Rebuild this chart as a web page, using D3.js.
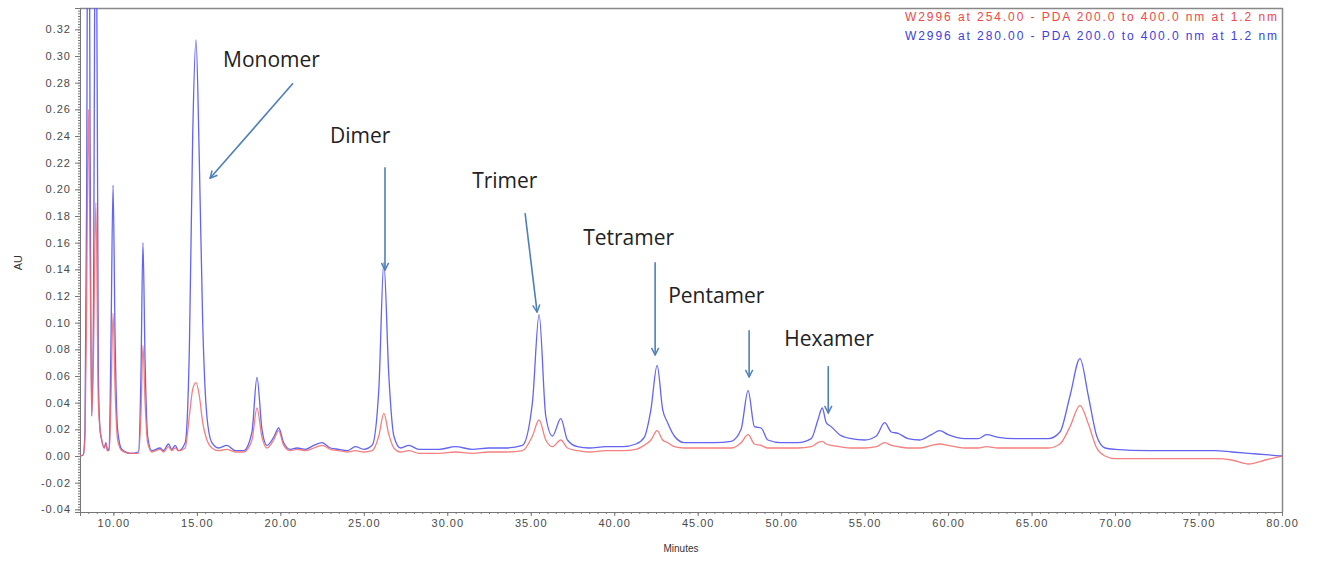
<!DOCTYPE html>
<html>
<head>
<meta charset="utf-8">
<script src="https://cdn.jsdelivr.net/npm/d3@7"></script>
<style>
  body { margin: 0; background: #fff; }
  svg { display: block; }
</style>
</head>
<body>
<div id="graph"></div>
<script>
//Retention times (minutes) shared by both traces
var times = [8.0, 8.2, 8.3, 8.4, 8.5, 8.6, 8.7, 8.8, 8.95, 9.1, 9.2, 9.3, 9.45, 9.55, 9.65, 9.75, 9.85, 9.98, 10.1, 10.25,
  10.5, 11.0, 11.5, 11.65, 11.77, 11.9, 12.05, 12.3, 12.8, 13.0, 13.3, 13.5, 13.7, 13.9, 14.3, 14.55, 14.75, 14.95, 15.15, 15.35,
  15.6, 15.9, 16.3, 16.8, 17.3, 17.8, 18.3, 18.6, 18.9, 19.2, 19.6, 19.9, 20.2, 20.6, 21.0, 21.5, 22.0, 22.5, 23.0, 23.5,
  24.0, 24.5, 25.0, 25.5, 25.9, 26.2, 26.5, 26.8, 27.2, 27.7, 28.3, 29.5, 30.5, 31.5, 32.5, 33.5, 34.5, 35.1, 35.5, 35.9,
  36.3, 36.8, 37.2, 37.8, 38.5, 39.5, 40.5, 41.3, 41.8, 42.2, 42.57, 42.9, 43.2, 43.6, 44.2, 45.0, 46.0, 47.0, 47.6, 48.02,
  48.4, 48.8, 49.2, 50.0, 51.0, 51.8, 52.2, 52.46, 52.7, 53.0, 53.5, 54.2, 55.0, 55.7, 56.2, 56.6, 57.0, 57.6, 58.3, 59.0,
  59.5, 60.0, 61.0, 61.8, 62.3, 63.0, 64.0, 65.0, 66.0, 66.7, 67.3, 67.9, 68.4, 68.9, 69.4, 70.0, 72.0, 74.0, 76.0, 77.0,
  78.0, 79.0, 80.0];

//Absorbance at 280 nm (blue trace)
var au280 = [0.000, 0.001, 0.020, 0.200, 0.600, 0.250, 0.030, 0.100, 0.500, 0.060, 0.020, 0.012, 0.006, 0.010, 0.004, 0.006, 0.080, 0.203, 0.090, 0.020,
  0.005, 0.002, 0.003, 0.060, 0.160, 0.070, 0.015, 0.004, 0.006, 0.004, 0.009, 0.005, 0.008, 0.004, 0.010, 0.080, 0.240, 0.312, 0.220, 0.100,
  0.030, 0.010, 0.006, 0.008, 0.004, 0.004, 0.018, 0.059, 0.020, 0.008, 0.014, 0.021, 0.010, 0.005, 0.006, 0.005, 0.008, 0.010, 0.006, 0.005,
  0.004, 0.007, 0.005, 0.008, 0.050, 0.145, 0.060, 0.015, 0.006, 0.008, 0.005, 0.005, 0.007, 0.005, 0.006, 0.006, 0.008, 0.040, 0.106, 0.030,
  0.015, 0.028, 0.012, 0.007, 0.006, 0.007, 0.007, 0.009, 0.014, 0.035, 0.068, 0.035, 0.025, 0.015, 0.010, 0.010, 0.010, 0.011, 0.020, 0.049,
  0.022, 0.021, 0.012, 0.010, 0.010, 0.013, 0.027, 0.036, 0.025, 0.022, 0.016, 0.013, 0.012, 0.015, 0.025, 0.018, 0.017, 0.013, 0.012, 0.016,
  0.019, 0.016, 0.013, 0.013, 0.016, 0.014, 0.013, 0.013, 0.013, 0.018, 0.045, 0.073, 0.045, 0.015, 0.006, 0.005, 0.004, 0.004, 0.004, 0.003,
  0.002, 0.001, 0.000];

//Absorbance at 254 nm (red trace)
var au254 = [0.000, 0.001, 0.015, 0.120, 0.260, 0.150, 0.030, 0.070, 0.190, 0.040, 0.020, 0.012, 0.006, 0.009, 0.004, 0.004, 0.040, 0.107, 0.050, 0.012,
  0.004, 0.002, 0.002, 0.030, 0.083, 0.040, 0.010, 0.003, 0.005, 0.003, 0.007, 0.004, 0.006, 0.004, 0.006, 0.030, 0.050, 0.055, 0.045, 0.025,
  0.012, 0.006, 0.004, 0.005, 0.003, 0.003, 0.012, 0.036, 0.014, 0.006, 0.012, 0.019, 0.008, 0.004, 0.005, 0.004, 0.006, 0.008, 0.005, 0.004,
  0.003, 0.004, 0.003, 0.004, 0.015, 0.032, 0.016, 0.006, 0.003, 0.004, 0.002, 0.002, 0.003, 0.002, 0.003, 0.003, 0.004, 0.015, 0.027, 0.012,
  0.007, 0.012, 0.006, 0.004, 0.003, 0.004, 0.004, 0.005, 0.008, 0.012, 0.019, 0.012, 0.010, 0.007, 0.006, 0.006, 0.006, 0.006, 0.010, 0.016,
  0.009, 0.008, 0.006, 0.006, 0.006, 0.007, 0.010, 0.011, 0.009, 0.008, 0.007, 0.006, 0.006, 0.007, 0.010, 0.008, 0.007, 0.006, 0.006, 0.008,
  0.009, 0.008, 0.006, 0.006, 0.007, 0.006, 0.006, 0.006, 0.006, 0.009, 0.022, 0.038, 0.024, 0.006, 0.000, -0.002, -0.002, -0.002, -0.002, -0.003,
  -0.006, -0.003, 0.000];

//Legend texts
var legendLabels = ["W2996  at 254.00 - PDA 200.0 to 400.0 nm at 1.2 nm", "W2996  at 280.00 - PDA 200.0 to 400.0 nm at 1.2 nm"];

//Peak annotations: label anchor (minutes, AU) and arrow from / to
var peakNames = ["Monomer", "Dimer", "Trimer", "Tetramer", "Pentamer", "Hexamer"];
var labelT = [16.57, 22.98, 31.49, 38.14, 43.23, 50.18];
var labelAU = [0.2915, 0.2346, 0.2008, 0.1581, 0.1147, 0.0824];
var arrowT0 = [20.76, 26.27, 34.66, 42.45, 48.08, 52.82];
var arrowAU0 = [0.2795, 0.2166, 0.1821, 0.1454, 0.0944, 0.0674];
var arrowT1 = [15.79, 26.27, 35.38, 42.45, 48.08, 52.82];
var arrowAU1 = [0.2083, 0.1394, 0.1079, 0.0757, 0.0592, 0.0322];

//Tick values
var xTicks = [10, 15, 20, 25, 30, 35, 40, 45, 50, 55, 60, 65, 70, 75, 80];
var yTicks = [-4, -2, 0, 2, 4, 6, 8, 10, 12, 14, 16, 18, 20, 22, 24, 26, 28, 30, 32].map(function(d) { return d / 100; });

//Setting width and height
var width = 1321, height = 561;
var margin = {left: 80, right: 39, top: 8, bottom: 49};

var svg = d3.select("#graph").append("svg").attr("width", width).attr("height", height);

var x = d3.scaleLinear().domain([8, 80]).range([margin.left, width - margin.right]);
var y = d3.scaleLinear().domain([-0.042, 0.336]).range([height - margin.bottom, margin.top]);

var axisColor = "#777";
var textColor = "#4a4a4a";
var font = "Liberation Sans, Arial, sans-serif";

//Clip for the traces
svg.append("clipPath").attr("id", "plotclip")
  .append("rect")
  .attr("x", x(8)).attr("y", y(0.336))
  .attr("width", x(80) - x(8)).attr("height", y(-0.042) - y(0.336));

//Frame top and right
svg.append("path")
  .attr("d", "M" + x(8) + "," + (y(0.336) + 0.5) + "H" + (x(80) + 0.5) + "V" + y(-0.042))
  .attr("fill", "none").attr("stroke", "#888").attr("stroke-width", 1.5);

//Minor ticks
var yMinor = d3.range(-21, 168).map(function(d) { return d / 500; });
var xMinor = d3.range(16, 161).map(function(d) { return d / 2; });

//Y axis
var yAxis = svg.append("g").attr("transform", "translate(" + x(8) + ",0)");
yAxis.call(d3.axisLeft(y).tickValues(yMinor).tickSize(2).tickFormat(""));
yAxis.append("g").call(d3.axisLeft(y).tickValues(yTicks).tickSize(5).tickPadding(4)
  .tickFormat(function(d) { return d.toFixed(2); }));
yAxis.selectAll("path, line").attr("stroke", axisColor);
yAxis.selectAll("text").attr("fill", textColor).attr("font-family", font).attr("font-size", 11)
  .attr("letter-spacing", 1);

//X axis
var xAxis = svg.append("g").attr("transform", "translate(0," + y(-0.042) + ")");
xAxis.call(d3.axisBottom(x).tickValues(xMinor).tickSize(2).tickFormat(""));
xAxis.append("g").call(d3.axisBottom(x).tickValues(xTicks).tickSize(4).tickPadding(3)
  .tickFormat(function(d) { return d.toFixed(2); }));
xAxis.selectAll("path, line").attr("stroke", axisColor);
xAxis.selectAll("text").attr("fill", textColor).attr("font-family", font).attr("font-size", 11)
  .attr("letter-spacing", 1);

//Axis titles
svg.append("text")
  .attr("transform", "translate(22," + y(0.145) + ") rotate(-90)")
  .attr("text-anchor", "middle")
  .attr("font-family", font).attr("font-size", 11).attr("fill", "#333")
  .text("AU");

svg.append("text")
  .attr("x", x(44)).attr("y", 552)
  .attr("text-anchor", "middle")
  .attr("font-family", font).attr("font-size", 10).attr("fill", "#333")
  .text("Minutes");

//Traces
var line = d3.line().curve(d3.curveMonotoneX);
var traces = [
  {values: au280, color: "#5b5cf0", opacity: 0.95},
  {values: au254, color: "#f26a6a", opacity: 0.85}
];

svg.append("g").attr("clip-path", "url(#plotclip)")
  .selectAll("path")
  .data(traces)
  .enter().append("path")
    .attr("fill", "none")
    .attr("stroke", function(d) { return d.color; })
    .attr("stroke-opacity", function(d) { return d.opacity; })
    .attr("stroke-width", 1.3)
    .attr("d", function(d) {
      return line(times.map(function(t, i) { return [x(t), y(d.values[i])]; }));
    });

//Legend
svg.append("g").selectAll("text")
  .data(legendLabels)
  .enter().append("text")
    .attr("x", x(80) - 5)
    .attr("y", function(d, i) { return 21 + i * 19; })
    .attr("text-anchor", "end")
    .attr("font-family", font).attr("font-size", 12)
    .attr("textLength", 372)
    .attr("lengthAdjust", "spacing")
    .attr("fill", function(d, i) { return i === 0 ? "#f04848" : "#4040e0"; })
    .text(function(d) { return d; });

//Arrow marker
svg.append("defs").append("marker")
  .attr("id", "arrow")
  .attr("viewBox", "0 0 10 10")
  .attr("refX", 9).attr("refY", 5)
  .attr("markerWidth", 9).attr("markerHeight", 9)
  .attr("markerUnits", "userSpaceOnUse")
  .attr("orient", "auto")
  .append("path")
    .attr("d", "M1,1 L9,5 L1,9")
    .attr("fill", "none")
    .attr("stroke", "#4f7fb8")
    .attr("stroke-width", 1.6);

//Peak annotations
var notes = svg.append("g").selectAll("g")
  .data(peakNames)
  .enter().append("g");

notes.append("line")
  .attr("x1", function(d, i) { return x(arrowT0[i]); })
  .attr("y1", function(d, i) { return y(arrowAU0[i]); })
  .attr("x2", function(d, i) { return x(arrowT1[i]); })
  .attr("y2", function(d, i) { return y(arrowAU1[i]); })
  .attr("stroke", "#4f7fb8")
  .attr("stroke-width", 1.6)
  .attr("marker-end", "url(#arrow)");

notes.append("text")
  .attr("x", function(d, i) { return x(labelT[i]); })
  .attr("y", function(d, i) { return y(labelAU[i]); })
  .attr("font-family", "Open Sans, sans-serif")
  .attr("font-size", 21)
  .attr("fill", "#222")
  .text(function(d) { return d; });
</script>
</body>
</html>
